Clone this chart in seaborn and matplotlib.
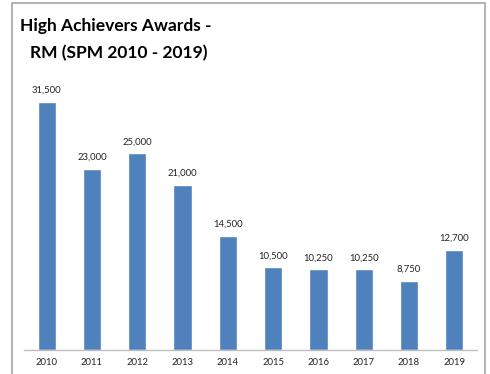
import matplotlib
matplotlib.use("Agg")
import matplotlib.pyplot as plt
import seaborn as sns
import pandas as pd
from matplotlib.patches import Rectangle

years = ["2010", "2011", "2012", "2013", "2014", "2015", "2016", "2017", "2018", "2019"]
awards = [31500, 23000, 25000, 21000, 14500, 10500, 10250, 10250, 8750, 12700]

sns.set_theme(style="white")
plt.rcParams["font.family"] = ["Lato", "DejaVu Sans"]

df = pd.DataFrame({"year": years, "award": awards})

W, H = 490, 374
fig = plt.figure(figsize=(W / 100, H / 100), dpi=100)
ax = fig.add_axes([24 / W, (H - 350) / H, (477 - 24) / W, (350 - 74.5) / H])

bar_color = "#4f81bd"
sns.barplot(data=df, x="year", y="award", color=bar_color, width=0.4,
            saturation=1, ax=ax)

ax.set_xlim(-0.5, 9.5)
ax.set_ylim(0, 35000)
ax.set_xlabel("")
ax.set_ylabel("")
ax.set_yticks([])
for s in ["top", "left", "right"]:
    ax.spines[s].set_visible(False)
ax.spines["bottom"].set_color("#bfbfbf")
ax.spines["bottom"].set_linewidth(1)
ax.tick_params(axis="x", length=0, pad=6, labelsize=6.8, colors="#222222")

for i, v in enumerate(awards):
    ax.annotate(f"{v:,}", (i, v), xytext=(0, 5), textcoords="offset points",
                ha="center", va="bottom", fontsize=6.8, color="#222222")

# outer chart frame
fig.patches.append(Rectangle((12 / W, -0.05), (485 - 12) / W, (H - 3) / H + 0.05,
                             transform=fig.transFigure, fill=False,
                             edgecolor="#a6a6a6", linewidth=1.2))

fig.text(20 / W, 1 - 31 / H, "High Achievers Awards -", fontsize=12.5,
         fontweight="bold", color="#000000", ha="left", va="baseline")
fig.text(30 / W, 1 - 58 / H, "RM (SPM 2010 - 2019)", fontsize=12.5,
         fontweight="bold", color="#000000", ha="left", va="baseline")

fig.savefig("out.png", dpi=100)
